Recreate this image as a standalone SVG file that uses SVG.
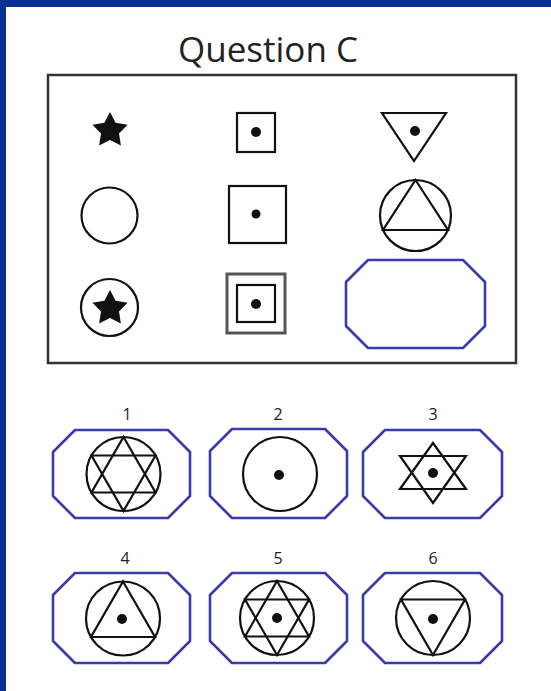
<svg xmlns="http://www.w3.org/2000/svg" width="551" height="691" viewBox="0 0 551 691">
<style>
.s{fill:none;stroke:#111;stroke-width:2.2}
.f{fill:#111}
.oct{fill:#fff;stroke:#3a3aa8;stroke-width:2.6;stroke-linejoin:round}
.lbl{font-family:"Open Sans","DejaVu Sans",sans-serif;font-size:16px;fill:#222;text-anchor:middle}
</style>
<rect width="551" height="691" fill="#fff"/>
<rect x="0" y="0" width="551" height="7" fill="#0a3192"/>
<rect x="0" y="0" width="6" height="691" fill="#0a3192"/>
<text x="268" y="62" font-family="'Open Sans','DejaVu Sans',sans-serif" font-size="35" fill="#222" text-anchor="middle">Question C</text>
<rect id="mainbox" x="48" y="75" width="468" height="288" fill="none" stroke="#333" stroke-width="2.5"/>
<g id="r1c1"><polygon class="f" points="110,112 115.6,122.8 127.6,124.8 119,133.4 120.9,145.5 110,140 99.1,145.5 101,133.4 92.4,124.8 104.4,122.8"/></g>
<g id="r1c2"><rect class="s" x="237" y="113" width="38" height="39"/><circle class="f" cx="256" cy="132" r="5"/></g>
<g id="r1c3"><polygon class="s" points="382,113 446,113 414,161"/><circle class="f" cx="415" cy="131" r="5"/></g>
<g id="r2c1"><circle class="s" cx="109.5" cy="215.5" r="28"/></g>
<g id="r2c2"><rect class="s" x="229" y="186" width="57" height="57"/><circle class="f" cx="256" cy="214" r="4.5"/></g>
<g id="r2c3"><circle class="s" cx="415.5" cy="215.5" r="35.5"/><polygon class="s" points="415.5,180 448,230 383,230"/></g>
<g id="r3c1"><circle class="s" cx="109.5" cy="307.5" r="28.5"/><polygon class="f" points="110,290 115.6,300.8 127.6,302.8 119,311.4 120.9,323.5 110,318 99.1,323.5 101,311.4 92.4,302.8 104.4,300.8"/></g>
<g id="r3c2"><rect x="227" y="274" width="58" height="59" fill="none" stroke="#555" stroke-width="3"/><rect class="s" x="237" y="285" width="38" height="37"/><circle class="f" cx="256" cy="304" r="5"/></g>
<g id="r3c3"><polygon class="oct" points="368,260 463,260 485,282 485,326 463,348 368,348 346,326 346,282"/></g>

<g id="a1"><text class="lbl" x="127" y="420">1</text>
<polygon class="oct" points="75,430 168,430 190,452 190,496 168,518 75,518 53,496 53,452"/>
<circle class="s" cx="123.5" cy="474" r="37"/>
<polygon class="s" points="123.5,437 155.5,492.5 91.5,492.5"/>
<polygon class="s" points="123.5,511 155.5,455.5 91.5,455.5"/></g>
<g id="a2"><text class="lbl" x="278" y="420">2</text>
<polygon class="oct" points="232,429 325,429 347,451 347,496 325,518 232,518 210,496 210,451"/>
<circle class="s" cx="280" cy="474" r="37"/><circle class="f" cx="279" cy="475" r="5"/></g>
<g id="a3"><text class="lbl" x="433" y="420">3</text>
<polygon class="oct" points="385,430 480,430 502,452 502,496 480,518 385,518 363,496 363,452"/>
<polygon class="s" points="433,443 466,489 400,489"/>
<polygon class="s" points="433,503 466,456 400,456"/>
<circle class="f" cx="433" cy="473" r="5"/></g>
<g id="a4"><text class="lbl" x="125" y="564">4</text>
<polygon class="oct" points="75,573 168,573 190,595 190,641 168,663 75,663 53,641 53,595"/>
<circle class="s" cx="123" cy="618.5" r="37"/>
<polygon class="s" points="123,581.5 155,637 91,637"/>
<circle class="f" cx="122" cy="619" r="5"/></g>
<g id="a5"><text class="lbl" x="278" y="564">5</text>
<polygon class="oct" points="232,573 325,573 347,595 347,641 325,663 232,663 210,641 210,595"/>
<circle class="s" cx="277" cy="618" r="37"/>
<polygon class="s" points="277,581 309,636.5 245,636.5"/>
<polygon class="s" points="277,655 309,599.5 245,599.5"/>
<circle class="f" cx="277" cy="618" r="5"/></g>
<g id="a6"><text class="lbl" x="433" y="564">6</text>
<polygon class="oct" points="385,573 480,573 502,595 502,641 480,663 385,663 363,641 363,595"/>
<circle class="s" cx="433" cy="618" r="37"/>
<polygon class="s" points="433,655 465,599.5 401,599.5"/>
<circle class="f" cx="433" cy="619" r="5"/></g>
</svg>
